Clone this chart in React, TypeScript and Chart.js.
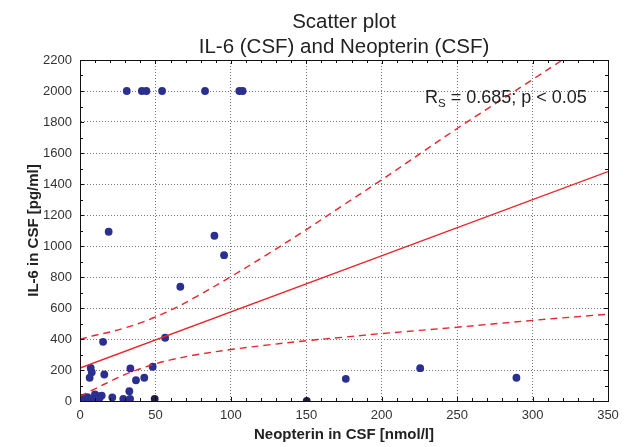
import React, { useEffect, useRef } from "react";
import { Chart, registerables } from "chart.js";

Chart.register(...registerables);

// Scatter data: Neopterin in CSF [nmol/l] vs IL-6 in CSF [pg/ml]
const neopterin = [
  31, 41, 44, 54.4, 82.9, 105.6, 107.8,
  19, 89.1, 95.5, 66.5, 56.4, 15.3,
  7.1, 7.8, 6.4, 16.1, 33.4, 48.2, 37.1, 42.6, 32.7, 21.4, 28.7, 33.2,
  2.2, 4.4, 9.9, 12.1, 14.4, 6.6, 1, 3, 5, 8, 11, 13, 10,
  176.2, 225.5, 289.3,
];
const il6 = [
  2000, 2000, 2000, 2000, 2000, 2000, 2000,
  1092, 1066, 941, 737, 408, 382,
  214, 186, 150, 171, 210, 221, 134, 150, 63, 23, 14, 14,
  21, 10, 42, 31, 35, 5, 5, 2, 25, 15, 8, 20, 2,
  143, 212, 150,
];
// points drawn darker on the axis
const neopterinDark = [49.5, 150.3];
const il6Dark = [14, 0];

// regression line and confidence band
const fitX = [0, 350];
const fitY = [213, 1480];
const bandX = [0, 10, 20, 30, 40, 50, 60, 75, 100, 125, 150, 175, 200, 250, 300, 350];
const upperBand = [398, 424, 445, 472, 504, 542, 585, 662, 802, 951, 1106, 1267, 1427, 1758, 2074, 2395];
const lowerBand = [30, 79, 127, 172, 208, 240, 265, 295, 332, 362, 389, 412, 435, 476, 520, 560];

const titleLines = ["Scatter plot", "IL-6 (CSF) and Neopterin (CSF)"];
const xTitle = "Neopterin in CSF [nmol/l]";
const yTitle = "IL-6 in CSF [pg/ml]";
const statText = " = 0.685; p < 0.05";

const FONT = '"Liberation Sans", Arial, Helvetica, sans-serif';
const RED = "#e8262b";
const NAVY = "#2b2f8f";

const decorPlugin = {
  id: "decor",
  afterDatasetsDraw(chart: any) {
    const { ctx, chartArea } = chart;
    const { left, right, top, bottom } = chartArea;
    const xs = chart.scales.x;
    const ys = chart.scales.y;
    ctx.save();
    // frame
    ctx.strokeStyle = "#111";
    ctx.lineWidth = 1;
    ctx.setLineDash([]);
    ctx.strokeRect(Math.round(left) + 0.5, Math.round(top) + 0.5, Math.round(right - left), Math.round(bottom - top));
    // inward ticks
    ctx.beginPath();
    for (let v = 0; v <= 350; v += 10) {
      const px = Math.round(xs.getPixelForValue(v)) + 0.5;
      const len = v % 50 === 0 ? 4 : 3;
      ctx.moveTo(px, bottom);
      ctx.lineTo(px, bottom - len);
      ctx.moveTo(px, top);
      ctx.lineTo(px, top + len);
    }
    for (let v = 0; v <= 2200; v += 100) {
      const py = Math.round(ys.getPixelForValue(v)) + 0.5;
      const len = v % 200 === 0 ? 4 : 3;
      ctx.moveTo(left, py);
      ctx.lineTo(left + len, py);
      ctx.moveTo(right, py);
      ctx.lineTo(right - len, py);
    }
    ctx.stroke();

    // title
    const cx = (left + right) / 2;
    ctx.fillStyle = "#222";
    ctx.textAlign = "center";
    ctx.textBaseline = "alphabetic";
    ctx.font = `20.5px ${FONT}`;
    ctx.fillText(titleLines[0], cx, 28);
    ctx.fillText(titleLines[1], cx, 53);

    // statistic annotation
    ctx.textAlign = "left";
    ctx.font = `18px ${FONT}`;
    const ax = 425;
    const ay = 102.5;
    ctx.fillText("R", ax, ay);
    const rw = ctx.measureText("R").width;
    ctx.font = `11.5px ${FONT}`;
    ctx.fillText("S", ax + rw, ay + 4);
    const sw = ctx.measureText("S").width;
    ctx.font = `18px ${FONT}`;
    ctx.fillText(statText, ax + rw + sw, ay);
    ctx.restore();
  },
};

export default function App() {
  const ref = useRef<HTMLCanvasElement>(null);
  useEffect(() => {
    if (!ref.current) return;
    const scatter = neopterin.map((x, i) => ({ x, y: il6[i] }));
    const dark = neopterinDark.map((x, i) => ({ x, y: il6Dark[i] }));
    const fit = fitX.map((x, i) => ({ x, y: fitY[i] }));
    const up = bandX.map((x, i) => ({ x, y: upperBand[i] }));
    const low = bandX.map((x, i) => ({ x, y: lowerBand[i] }));
    const bandStyle = {
      type: "line",
      borderColor: RED,
      borderWidth: 1.4,
      borderDash: [7, 5],
      pointRadius: 0,
      fill: false,
      tension: 0.35,
    };
    const chart = new Chart(ref.current, {
      type: "scatter",
      data: {
        datasets: [
          { ...bandStyle, data: up } as any,
          { ...bandStyle, data: low } as any,
          {
            type: "line",
            data: fit,
            borderColor: RED,
            borderWidth: 1.4,
            pointRadius: 0,
            fill: false,
          } as any,
          {
            data: scatter,
            backgroundColor: NAVY,
            borderWidth: 0,
            pointRadius: 3.9,
          },
          {
            data: dark,
            backgroundColor: "#1d1d45",
            borderWidth: 0,
            pointRadius: 3.9,
          },
        ],
      },
      options: {
        responsive: false,
        animation: false,
        layout: { padding: { top: 60, right: 18, bottom: 0, left: 0 } },
        plugins: {
          legend: { display: false },
          title: { display: false },
          tooltip: { enabled: false },
        },
        scales: {
          x: {
            type: "linear",
            min: 0,
            max: 350,
            ticks: {
              stepSize: 50,
              padding: 7,
              color: "#333",
              font: { family: FONT, size: 13 },
              maxRotation: 0,
              callback: (v: any) => String(v),
            },
            grid: { color: "#777", drawTicks: false, lineWidth: 1 },
            border: { display: true, color: "#111", width: 1, dash: [1, 2] },
            title: {
              display: true,
              text: xTitle,
              color: "#222",
              font: { family: FONT, size: 15, weight: "bold" },
              padding: { top: 0, bottom: 3 },
            },
            afterFit: (s: any) => {
              s.height = 46;
            },
          },
          y: {
            type: "linear",
            min: 0,
            max: 2200,
            ticks: {
              stepSize: 200,
              padding: 8,
              color: "#333",
              font: { family: FONT, size: 13 },
              callback: (v: any) => String(v),
            },
            grid: { color: "#777", drawTicks: false, lineWidth: 1 },
            border: { display: true, color: "#111", width: 1, dash: [1, 2] },
            title: {
              display: true,
              text: yTitle,
              color: "#222",
              font: { family: FONT, size: 15, weight: "bold" },
              padding: { top: 25, bottom: 0 },
            },
            afterFit: (s: any) => {
              s.width = 80;
            },
          },
        },
      },
      plugins: [decorPlugin],
    });
    return () => chart.destroy();
  }, []);
  return (
    <div style={{ position: "absolute", left: 0, top: 0, width: 626, height: 447, background: "#fff" }}>
      <canvas ref={ref} width={626} height={447} />
    </div>
  );
}
